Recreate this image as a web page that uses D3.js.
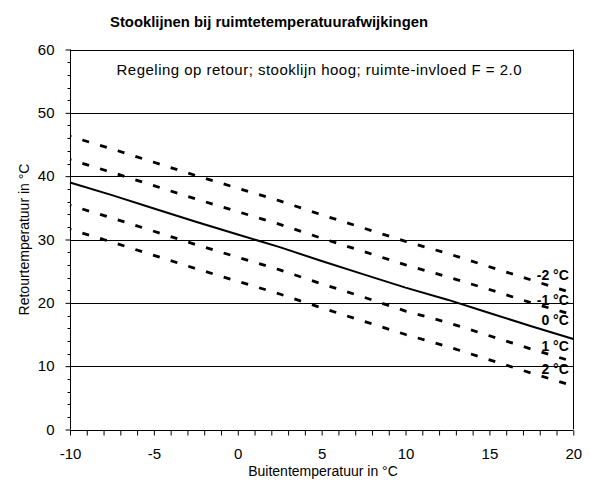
<!DOCTYPE html>
<html>
<head>
<meta charset="utf-8">
<script src="https://cdn.jsdelivr.net/npm/d3@7"></script>
<style>
  html, body { margin: 0; padding: 0; background: #fff; }
  svg { display: block; font-family: "Liberation Sans", Arial, sans-serif; }
</style>
</head>
<body>
<svg id="chart" width="590" height="486"></svg>
<script>
// ---- data ----
const title = "Stooklijnen bij ruimtetemperatuurafwijkingen";
const subtitle = "Regeling op retour; stooklijn hoog; ruimte-invloed F = 2.0";
const xTitle = "Buitentemperatuur in °C";
const yTitle = "Retourtemperatuur in °C";

const outdoorTemps = [-10, -7.5, -5, -2.5, 0, 2.5, 5, 7.5, 10, 12.5, 15, 17.5, 20];
const seriesMinus2 = [46.3, 44.3, 42.2, 40.1, 38.1, 36.1, 33.9, 31.8, 29.7, 27.8, 25.7, 23.6, 21.5];
const seriesMinus1 = [42.6, 40.6, 38.5, 36.4, 34.4, 32.4, 30.2, 28.1, 26.0, 24.1, 22.1, 20.0, 18.1];
const seriesZero   = [39.0, 37.0, 34.9, 32.8, 30.8, 28.8, 26.6, 24.5, 22.4, 20.5, 18.4, 16.3, 14.3];
const seriesPlus1  = [35.4, 33.4, 31.3, 29.2, 27.2, 25.2, 23.0, 20.9, 18.7, 16.9, 14.8, 12.7, 10.7];
const seriesPlus2  = [31.6, 29.6, 27.5, 25.4, 23.4, 21.4, 19.2, 17.1, 15.0, 13.1, 11.0, 8.9, 6.9];

const seriesNames = ["-2 °C", "-1 °C", "0 °C", "1 °C", "2 °C"];
const labelValues = [24.4, 20.5, 17.3, 13.2, 9.6]; // label y positions (data units) at x = 20

const xTickLabels = [-10, -5, 0, 5, 10, 15, 20];
const yTickLabels = [0, 10, 20, 30, 40, 50, 60];

// ---- layout ----
const svg = d3.select("#chart");
const L = 70, R = 573.3, T = 49.5, B = 429.5;
const x = d3.scaleLinear().domain([-10, 20]).range([L, R]);
const y = d3.scaleLinear().domain([0, 60]).range([B, T]);
const fmt = d => String(d);

// gridlines
svg.append("g")
  .selectAll("line").data([10, 20, 30, 40, 50]).join("line")
  .attr("x1", L).attr("x2", R)
  .attr("y1", d => Math.round(y(d)) + 0.5).attr("y2", d => Math.round(y(d)) + 0.5)
  .attr("stroke", "#000").attr("stroke-width", 1);

// frame top & right
svg.append("line").attr("x1", L).attr("x2", R).attr("y1", Math.round(T) + 0.5).attr("y2", Math.round(T) + 0.5).attr("stroke", "#000");
svg.append("line").attr("x1", Math.round(R) + 0.5).attr("x2", Math.round(R) + 0.5).attr("y1", T).attr("y2", B).attr("stroke", "#000");

// y axis
const yAxis = d3.axisLeft(y).tickValues(yTickLabels).tickSize(5).tickPadding(11).tickFormat(fmt);
const gy = svg.append("g").attr("transform", `translate(${Math.round(L) + 0.5},0)`).call(yAxis);
gy.select(".domain").attr("stroke", "#000").attr("d", `M0,${T}V${B}`);
const yMinor = d3.range(0, 61, 2).filter(v => v % 10 !== 0);
gy.append("g").selectAll("line").data(yMinor).join("line")
  .attr("x1", -3).attr("x2", 0)
  .attr("y1", d => Math.round(y(d)) + 0.5).attr("y2", d => Math.round(y(d)) + 0.5)
  .attr("stroke", "#000");

// x axis
const xAxis = d3.axisBottom(x).tickValues(d3.range(-10, 21, 1)).tickSize(5).tickPadding(8)
  .tickFormat(d => xTickLabels.includes(d) ? fmt(d) : "");
const gx = svg.append("g").attr("transform", `translate(0,${Math.round(B) + 0.5})`).call(xAxis);
gx.select(".domain").attr("stroke", "#000").attr("d", `M${L},0H${R}`);

[gx, gy].forEach(g => {
  g.selectAll(".tick line").attr("stroke", "#000");
  g.selectAll(".tick text").attr("fill", "#000").style("font-size", "15px")
    .style("font-family", '"Liberation Sans", Arial, sans-serif');
});
gx.selectAll(".tick text").attr("y", 28).attr("dy", 0);

// lines
const allSeries = [seriesMinus2, seriesMinus1, seriesZero, seriesPlus1, seriesPlus2];
const line = d3.line().x((d, i) => x(outdoorTemps[i])).y(d => y(d));
svg.append("g").selectAll("path").data(allSeries).join("path")
  .attr("d", d => line(d))
  .attr("fill", "none")
  .attr("stroke", "#000")
  .attr("stroke-width", (d, i) => i === 2 ? 2 : 2.8)
  .attr("stroke-dasharray", (d, i) => i === 2 ? null : "7,11.5")
  .attr("stroke-dashoffset", (d, i) => i === 2 ? null : 5.6);

// series labels
svg.append("g").selectAll("text").data(seriesNames).join("text")
  .attr("x", x(20) - 4.5)
  .attr("y", (d, i) => y(labelValues[i]))
  .attr("dy", "0.36em")
  .attr("text-anchor", "end")
  .style("font-size", "14px").style("font-weight", "bold")
  .text(d => d);

// titles
svg.append("text").attr("x", 269).attr("y", 27).attr("text-anchor", "middle")
  .attr("textLength", 318).attr("lengthAdjust", "spacingAndGlyphs")
  .style("font-size", "14.5px").style("font-weight", "bold").text(title);
svg.append("text").attr("x", 319).attr("y", 75).attr("text-anchor", "middle")
  .attr("textLength", 405).attr("lengthAdjust", "spacing")
  .style("font-size", "15px").text(subtitle);
svg.append("text").attr("x", 323).attr("y", 476).attr("text-anchor", "middle")
  .style("font-size", "14px").text(xTitle);
svg.append("text").attr("transform", `translate(28.5,${(T + B) / 2}) rotate(-90)`)
  .attr("text-anchor", "middle").style("font-size", "14px").text(yTitle);
</script>
</body>
</html>
